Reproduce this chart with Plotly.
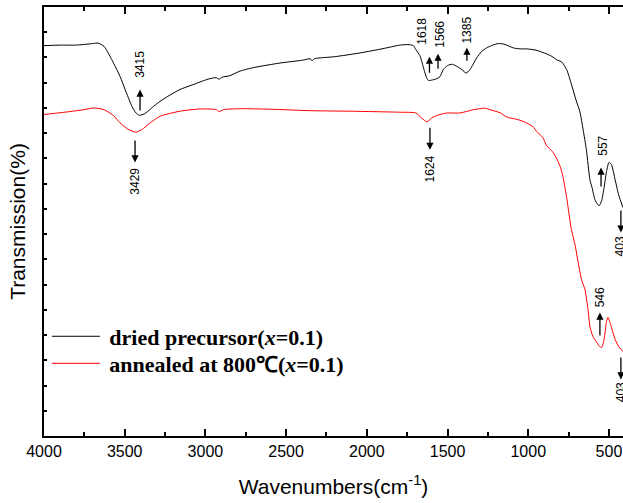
import plotly.graph_objects as go

# ---- data (wavenumber cm^-1, transmission in arbitrary units) ----
dried_wn = [4000, 3900, 3800, 3700, 3665, 3628, 3580, 3529, 3490, 3455, 3430, 3410, 3380, 3356,
            3320, 3281, 3220, 3158, 3070, 2984, 2935, 2915, 2895, 2848, 2786, 2700, 2538, 2400,
            2350, 2340, 2325, 2200, 2042, 1900, 1795, 1745, 1712, 1696, 1671, 1646, 1630, 1619,
            1600, 1566, 1547, 1526, 1500, 1470, 1440, 1411, 1385, 1361, 1320, 1290, 1258, 1220,
            1186, 1150, 1093, 1050, 1010, 952, 886, 853, 824, 791, 762, 729, 705, 680, 660, 640,
            618, 605, 587, 570, 560, 545, 530, 515, 500, 485, 462, 440, 413]
dried_t = [15.47, 15.49, 15.49, 15.55, 15.57, 15.44, 14.91, 14.25, 13.61, 13.06, 12.80, 12.71, 12.76, 12.87,
           13.07, 13.26, 13.51, 13.73, 13.94, 14.14, 14.20, 14.14, 14.22, 14.28, 14.46, 14.60, 14.78, 14.89,
           14.95, 14.87, 14.95, 15.03, 15.18, 15.35, 15.49, 15.51, 15.47, 15.31, 15.07, 14.52, 14.20, 14.09,
           14.10, 14.16, 14.24, 14.52, 14.68, 14.73, 14.64, 14.52, 14.38, 14.52, 14.98, 15.23, 15.38, 15.49,
           15.55, 15.53, 15.38, 15.34, 15.34, 15.29, 15.14, 15.04, 14.91, 14.81, 14.52, 13.86, 13.33, 12.85, 12.14, 11.35,
           10.16, 9.85, 9.37, 9.17, 9.13, 9.33, 9.85, 10.48, 10.84, 10.76, 10.16, 9.56, 9.05]

annealed_wn = [4000, 3900, 3752, 3690, 3628, 3570, 3529, 3480, 3430, 3390, 3356, 3281, 3158, 3034,
               2930, 2916, 2890, 2786, 2600, 2340, 2100, 1795, 1696, 1660, 1629, 1590, 1547, 1505,
               1423, 1340, 1270, 1237, 1175, 1134, 1080, 1031, 971, 948, 909, 886, 850, 820, 800,
               785, 760, 735, 708, 692, 670, 649, 630, 618, 600, 575, 560, 545, 530, 515, 506,
               490, 462, 440, 413]
annealed_t = [12.74, 12.81, 12.93, 13.00, 12.93, 12.70, 12.41, 12.16, 12.04, 12.16, 12.34, 12.67, 12.87, 12.96,
              12.93, 12.85, 12.93, 12.97, 12.95, 12.89, 12.87, 12.83, 12.80, 12.60, 12.45, 12.64, 12.74, 12.80,
              12.80, 12.93, 12.99, 12.93, 12.81, 12.64, 12.56, 12.47, 12.26, 12.07, 11.82, 11.50, 11.27, 10.95, 10.64,
              10.28, 9.36, 8.26, 7.51, 6.92, 6.20, 5.81, 5.02, 4.34, 3.95, 3.71, 3.55, 3.51, 3.83, 4.54, 4.70,
              4.42, 3.83, 3.55, 3.35]

# peak labels: text, arrow x, arrow head y, arrow direction (+1 up, -1 down), text x, text y
peak_labels = ["3415", "3429", "1618", "1566", "1385", "1624", "557", "403", "546", "403"]
arrow_x     = [3405, 3436, 1612, 1559, 1380, 1609, 549, 426, 556, 426]
arrow_y     = [13.73, 10.84, 15.03, 15.15, 15.39, 11.34, 10.64, 8.06, 4.89, 2.24]
arrow_dir   = [1, -1, 1, 1, 1, -1, 1, -1, 1, -1]
arrow_len   = [22, 23, 17, 16, 14, 23, 20, 23, 24, 23]
label_x     = [3405, 3436, 1658, 1547, 1380, 1609, 537, 426, 550, 426]
label_y     = [14.71, 10.08, 16.02, 15.94, 16.10, 10.60, 11.50, 7.51, 5.49, 1.73]

series_names = ["\u2009<b>dried precursor(<i>x</i>=0.1)</b>", "\u2009<b>annealed at 800℃(<i>x</i>=0.1)</b>"]

fig = go.Figure()
fig.add_trace(go.Scatter(x=dried_wn, y=dried_t, mode="lines", name=series_names[0], legend="legend",
                         line=dict(color="black", width=1, shape="spline", smoothing=0.6)))
fig.add_trace(go.Scatter(x=annealed_wn, y=annealed_t, mode="lines", name=series_names[1], legend="legend2",
                         line=dict(color="red", width=1, shape="spline", smoothing=0.6)))

for t, axx, ayy, d, ln, lx, ly in zip(peak_labels, arrow_x, arrow_y, arrow_dir, arrow_len, label_x, label_y):
    fig.add_annotation(x=axx, y=ayy, xref="x", yref="y", text=" ", showarrow=True,
                       font=dict(size=1), borderpad=0,
                       arrowhead=2, arrowsize=1.1, arrowwidth=1.3, arrowcolor="black",
                       ax=0, ay=ln * d, axref="pixel", ayref="pixel", standoff=0)
    fig.add_annotation(x=lx, y=ly, xref="x", yref="y", text=t, showarrow=False, textangle=-90,
                       font=dict(family="Arial, Liberation Sans", size=12, color="black"))

legend_font = dict(family="Times New Roman, Liberation Serif", size=22, color="black")

fig.update_layout(
    width=623, height=503,
    margin=dict(l=44, r=0, t=7, b=67),
    paper_bgcolor="white", plot_bgcolor="white",
    showlegend=True,
    legend=dict(x=0.005, y=0.232, xanchor="left", yanchor="middle", bgcolor="rgba(0,0,0,0)",
                font=legend_font, itemwidth=48),
    legend2=dict(x=0.005, y=0.169, xanchor="left", yanchor="middle", bgcolor="rgba(0,0,0,0)",
                 font=legend_font, itemwidth=48),
    xaxis=dict(range=[4000, 413], tickmode="array", automargin=False,
               tickvals=[4000, 3500, 3000, 2500, 2000, 1500, 1000, 500],
               ticks="inside", ticklen=7, tickwidth=1.5, tickcolor="black",
               minor=dict(dtick=250, ticks="inside", ticklen=4, tickwidth=1.5, tickcolor="black"),
               showline=True, linecolor="black", linewidth=2, mirror="ticks",
               showgrid=False, zeroline=False,
               tickfont=dict(family="Arial, Liberation Sans", size=16, color="black"),
               title=dict(text="Wavenumbers(cm<sup>-1</sup>)", standoff=20,
                          font=dict(family="Arial, Liberation Sans", size=21, color="black"))),
    yaxis=dict(range=[0, 17], dtick=1, ticks="inside", ticklen=3, tickwidth=1.5, tickcolor="black",
               automargin=False,
               showticklabels=False, showline=True, linecolor="black", linewidth=2,
               showgrid=False, zeroline=False,
               title=dict(text="Transmission(%)", standoff=11,
                          font=dict(family="Arial, Liberation Sans", size=21, color="black"))),
)

fig.write_html("out.html", config={"displayModeBar": False},
               post_script="document.body.style.margin='0';")
